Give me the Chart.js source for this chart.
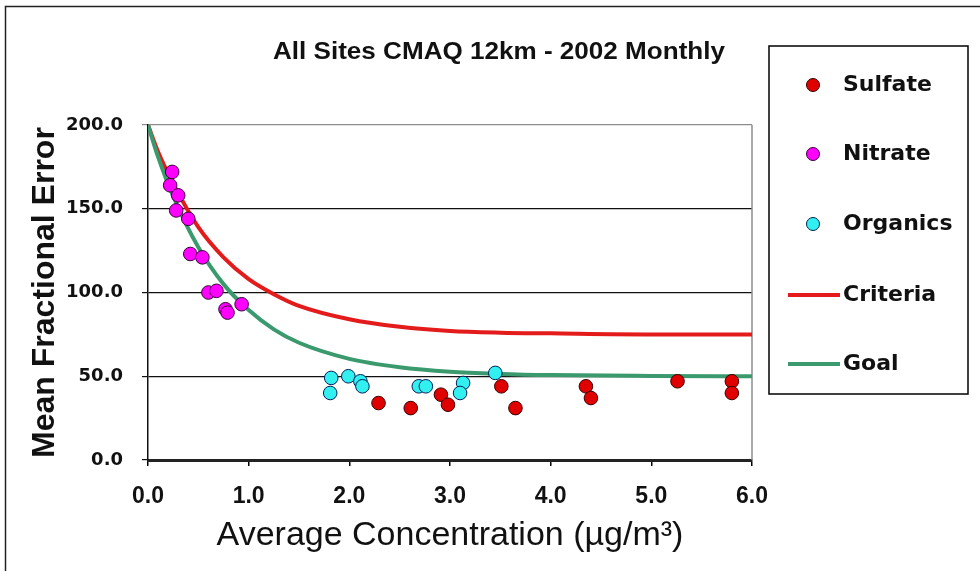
<!DOCTYPE html>
<html>
<head>
<meta charset="utf-8">
<script src="https://cdn.jsdelivr.net/npm/chart.js@4.4.0/dist/chart.umd.min.js"></script>
<style>
  html, body { margin: 0; padding: 0; background: #fff; }
  canvas { display: block; }
</style>
</head>
<body>
<canvas id="mfe-chart" width="980" height="571"></canvas>
<script>
// Monthly mean fractional error vs. average concentration
const sulfateX = [2.29, 2.61, 2.91, 2.98, 3.51, 3.65, 4.35, 4.40, 5.26, 5.80, 5.80];
const sulfateY = [34, 31, 39, 33, 44, 31, 44, 37, 47, 47, 40];

const nitrateX = [0.24, 0.22, 0.30, 0.28, 0.40, 0.42, 0.54, 0.60, 0.68, 0.77, 0.79, 0.93];
const nitrateY = [172, 164, 158, 149, 144, 123, 121, 100, 101, 90, 88, 93];

const organicsX = [1.82, 1.81, 1.99, 2.11, 2.13, 2.69, 2.76, 3.13, 3.10, 3.45];
const organicsY = [49, 40, 50, 47, 44, 44, 44, 46, 40, 52];

// performance criteria / goal curves
const curveX = [0, 0.1, 0.25, 0.5, 0.75, 1.0, 1.25, 1.5, 2.0, 2.5, 3.0, 3.5, 4.0, 5.0, 6.0];
const criteriaY = [200, 184, 165, 139, 121, 108, 99, 92, 84, 79.5, 77, 76, 75.6, 75, 75];
const goalY = [200, 181, 157.5, 127, 105, 89.5, 78, 70, 60.4, 55.4, 52.7, 51.4, 50.7, 50.2, 50];

const xTicks = [0, 1, 2, 3, 4, 5, 6];
const yTicks = [0, 50, 100, 150, 200];

const SANS = "'Liberation Sans', Arial, sans-serif";
const WIDE = "'DejaVu Sans', Verdana, sans-serif";

Chart.defaults.font.family = SANS;
Chart.defaults.color = '#000';

function pts(xs, ys) {
    return xs.map((x, i) => ({ x: x, y: ys[i] }));
}

const markerStyle = {
    pointRadius: 6.8,
    pointHoverRadius: 6.8,
    pointBorderWidth: 1,
    showLine: false,
    order: 1
};

const datasets = [
    {
        label: 'Sulfate',
        data: pts(sulfateX, sulfateY),
        backgroundColor: '#e00000',
        borderColor: '#3a0000',
        ...markerStyle
    },
    {
        label: 'Nitrate',
        data: pts(nitrateX, nitrateY),
        backgroundColor: '#ff00ff',
        borderColor: '#3a003a',
        ...markerStyle
    },
    {
        label: 'Organics',
        data: pts(organicsX, organicsY),
        backgroundColor: '#33f0f0',
        borderColor: '#00205a',
        ...markerStyle
    },
    {
        label: 'Criteria',
        data: pts(curveX, criteriaY),
        borderColor: '#e31b1b',
        backgroundColor: '#e31b1b',
        borderWidth: 4,
        pointRadius: 0,
        showLine: true,
        cubicInterpolationMode: 'monotone',
        order: 3
    },
    {
        label: 'Goal',
        data: pts(curveX, goalY),
        borderColor: '#3b9a6d',
        backgroundColor: '#3b9a6d',
        borderWidth: 4,
        pointRadius: 0,
        showLine: true,
        cubicInterpolationMode: 'monotone',
        order: 2
    }
];

// text squeezed/stretched horizontally to a fixed width
function fitText(ctx, text, cx, y, width) {
    const w = ctx.measureText(text).width;
    ctx.save();
    ctx.translate(cx, y);
    ctx.scale(width / w, 1);
    ctx.textAlign = 'center';
    ctx.fillText(text, 0, 0);
    ctx.restore();
}

// page frame, plot border, title and the boxed legend
const decorations = {
    id: 'decorations',
    beforeDraw(chart) {
        const ctx = chart.ctx;
        ctx.save();
        ctx.fillStyle = '#fff';
        ctx.fillRect(0, 0, chart.width, chart.height);
        ctx.strokeStyle = '#222';
        ctx.lineWidth = 1.5;
        ctx.beginPath();
        ctx.moveTo(5.5, chart.height);
        ctx.lineTo(5.5, 6.5);
        ctx.lineTo(chart.width, 6.5);
        ctx.stroke();
        ctx.restore();
    },
    beforeDatasetsDraw(chart) {
        const ctx = chart.ctx;
        const a = chart.chartArea;
        ctx.save();
        ctx.strokeStyle = '#8c8c8c';
        ctx.lineWidth = 1.5;
        ctx.beginPath();
        ctx.moveTo(a.right, a.top);
        ctx.lineTo(a.right, a.bottom);
        ctx.stroke();
        ctx.restore();
    },
    afterDraw(chart) {
        const ctx = chart.ctx;
        ctx.save();

        ctx.fillStyle = '#111';
        ctx.font = 'bold 24px ' + SANS;
        ctx.textBaseline = 'alphabetic';
        fitText(ctx, 'All Sites CMAQ 12km - 2002 Monthly', 499, 59, 452);

        // legend box
        ctx.strokeStyle = '#000';
        ctx.lineWidth = 1.5;
        ctx.strokeRect(769, 46, 199, 348);

        const rowY = [85, 154, 224, 295, 364];
        ctx.font = 'bold 22px ' + WIDE;
        ctx.textAlign = 'left';
        ctx.textBaseline = 'middle';
        chart.data.datasets.forEach((ds, i) => {
            const y = rowY[i];
            if (ds.showLine) {
                ctx.strokeStyle = ds.borderColor;
                ctx.lineWidth = 4;
                ctx.beginPath();
                ctx.moveTo(788, y);
                ctx.lineTo(840, y);
                ctx.stroke();
            } else {
                ctx.fillStyle = ds.backgroundColor;
                ctx.strokeStyle = ds.borderColor;
                ctx.lineWidth = 1;
                ctx.beginPath();
                ctx.arc(813, y, 6.5, 0, Math.PI * 2);
                ctx.fill();
                ctx.stroke();
            }
            ctx.fillStyle = '#111';
            ctx.fillText(ds.label, 843, y);
        });

        ctx.restore();
    }
};

new Chart(document.getElementById('mfe-chart'), {
    type: 'scatter',
    data: { datasets: datasets },
    plugins: [decorations],
    options: {
        responsive: false,
        animation: false,
        events: [],
        layout: {
            padding: { left: 10, top: 125, right: 228, bottom: 0 }
        },
        plugins: {
            legend: { display: false },
            tooltip: { enabled: false }
        },
        scales: {
            x: {
                type: 'linear',
                min: 0,
                max: 6,
                afterFit(scale) { scale.height = 111; },
                afterBuildTicks(scale) { scale.ticks = xTicks.map(v => ({ value: v })); },
                grid: {
                    drawOnChartArea: false,
                    drawTicks: true,
                    tickLength: 6,
                    color: '#000',
                    lineWidth: 1.5
                },
                border: { display: true, color: '#222', width: 3 },
                ticks: {
                    padding: 17,
                    maxRotation: 0,
                    color: '#111',
                    font: { size: 23, weight: 'bold' },
                    callback: v => Number(v).toFixed(1)
                },
                title: {
                    display: true,
                    text: 'Average Concentration (µg/m³)',
                    color: '#111',
                    font: { size: 34 },
                    padding: { top: 0, bottom: 15 }
                }
            },
            y: {
                type: 'linear',
                min: 0,
                max: 200,
                afterFit(scale) { scale.width = 138; },
                afterBuildTicks(scale) { scale.ticks = yTicks.map(v => ({ value: v })); },
                grid: {
                    drawTicks: true,
                    tickLength: 6,
                    color: ctx => (ctx.tick && ctx.tick.value === 200) ? '#8c8c8c' : '#111',
                    lineWidth: 1.2
                },
                border: { display: true, color: '#111', width: 1.5 },
                ticks: {
                    padding: 19,
                    color: '#111',
                    font: { family: WIDE, size: 18, weight: 'bold' },
                    callback: v => Number(v).toFixed(1)
                },
                title: {
                    display: true,
                    text: 'Mean Fractional Error',
                    color: '#111',
                    font: { size: 32, weight: 'bold' },
                    padding: { top: 16, bottom: 0 }
                }
            }
        }
    }
});
</script>
</body>
</html>
